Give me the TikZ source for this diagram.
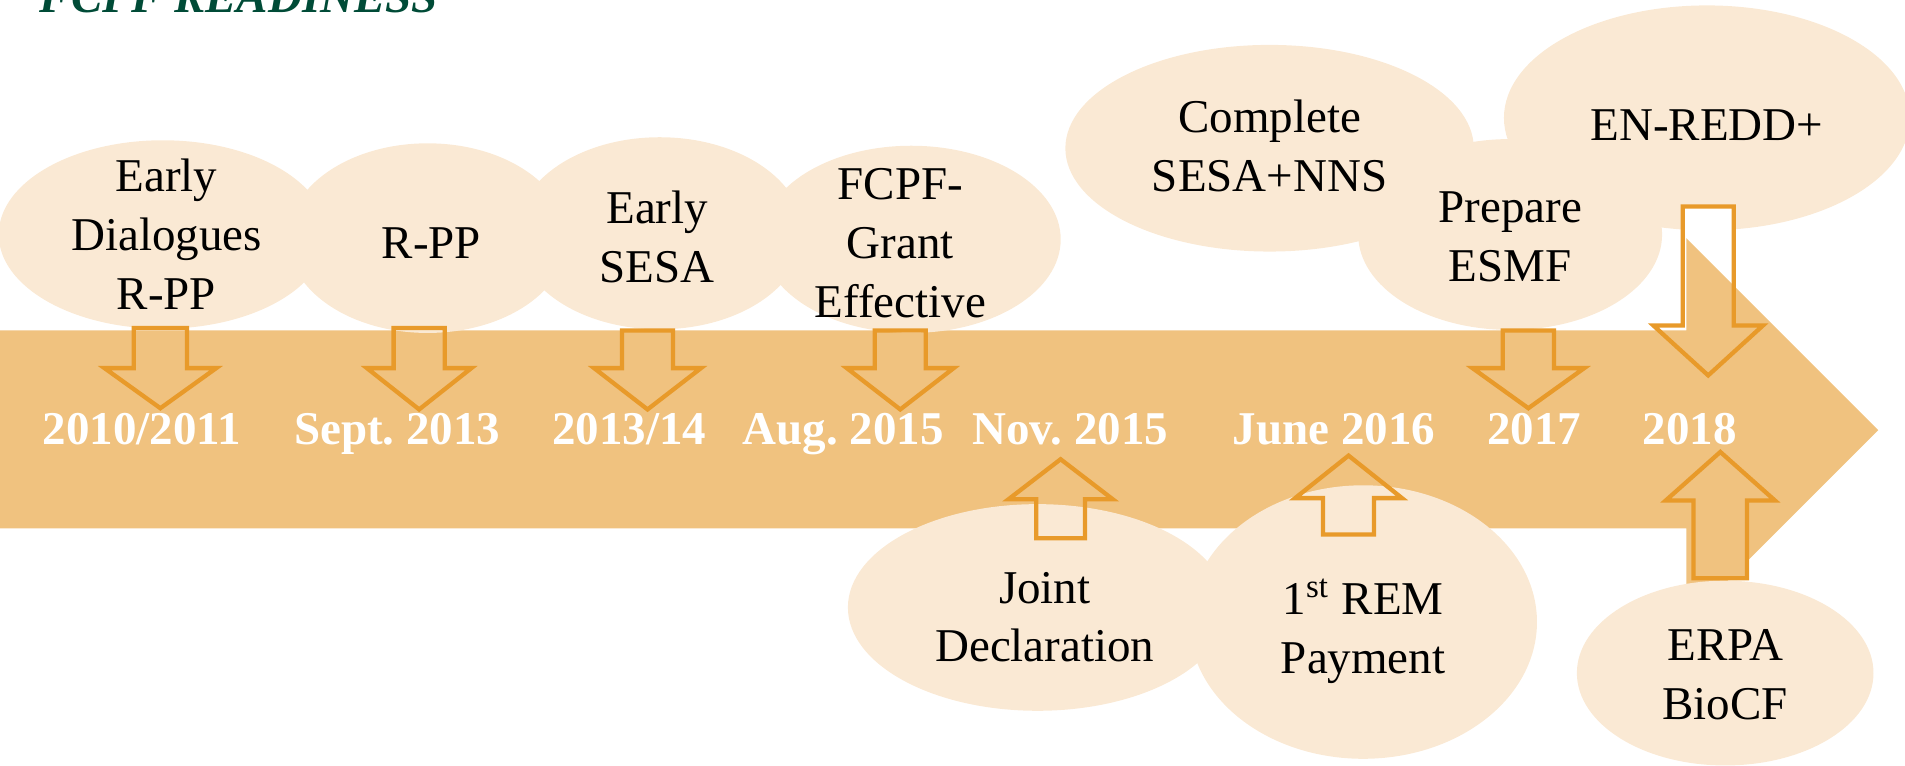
\documentclass[tikz,border=0pt]{standalone}
\usepackage{fontspec}
\setmainfont{Liberation Serif}
\usetikzlibrary{shapes.geometric}
\definecolor{barcol}{HTML}{F0C27F}
\definecolor{bubcol}{HTML}{FAE9D4}
\definecolor{arrcol}{HTML}{E89A2A}
\definecolor{titlecol}{RGB}{0,75,55}
% block arrow path: cx, base y, shoulder y, tip y, stem half width, head half width
\newcommand{\blkpath}[6]{({#1-#5},#2) -- ({#1+#5},#2) -- ({#1+#5},#3) -- ({#1+#6},#3) -- (#1,#4) -- ({#1-#6},#3) -- ({#1-#5},#3) -- cycle}
\newcommand{\bigarrowpath}{(0,272) -- (1388,272) -- (1388,196) -- (1546,354) -- (1388,512) -- (1388,435) -- (0,435) -- cycle}
\frenchspacing
\begin{document}
\begin{tikzpicture}[x=0.01cm,y=-0.01cm,
  bubble/.style={ellipse, fill=bubcol, inner sep=0pt},
  btext/.style={align=center, font=\fontsize{11}{13.8}\selectfont, text=black, inner sep=0pt},
  datelbl/.style={font=\fontsize{11}{13}\selectfont\bfseries, text=white, anchor=base, inner sep=0pt},
  blkline/.style={draw=arrcol, line width=1pt, line join=miter}]
\useasboundingbox (0,0) rectangle (1568,630);

% title (cut at top)
\node[anchor=base west, inner sep=0pt, text=titlecol, font=\fontsize{11}{13}\selectfont\bfseries\itshape] (title) at (32,10) {FCPF READINESS};

% timeline arrow
\fill[barcol] \bigarrowpath;

% bubbles
\node[bubble, minimum width=2.70cm, minimum height=1.55cm] (e1) at (134,193) {};
\node[bubble, minimum width=2.30cm, minimum height=1.56cm] (e2) at (352,196) {};
\node[bubble, minimum width=2.36cm, minimum height=1.58cm] (e3) at (543,192) {};
\node[bubble, minimum width=2.46cm, minimum height=1.54cm] (e4) at (750,197) {};
\node[bubble, minimum width=3.36cm, minimum height=1.70cm] (e5) at (1045,122) {};
\node[bubble, minimum width=2.50cm, minimum height=1.57cm] (e6) at (1243,193) {};
\node[bubble, minimum width=3.34cm, minimum height=1.85cm] (e7) at (1405,97) {};
\node[bubble, minimum width=3.12cm, minimum height=1.70cm] (e8) at (854,500) {};
\node[bubble, minimum width=2.86cm, minimum height=2.25cm] (e9) at (1122,512) {};
\node[bubble, minimum width=2.44cm, minimum height=1.52cm] (e10) at (1420,554) {};

% 2018 down arrow: white fill, timeline colour inside the timeline
\fill[white] \blkpath{1406}{170}{268}{309}{21}{45};
\begin{scope}
  \clip \blkpath{1406}{170}{268}{309}{21}{45};
  \fill[barcol] \bigarrowpath;
\end{scope}
% ERPA up arrow fill
\fill[barcol] \blkpath{1416}{476}{412}{372}{22}{45};

% callout arrows
\draw[blkline] \blkpath{132}{270}{303}{336}{22}{46};
\draw[blkline] \blkpath{345}{270}{303}{337}{21}{43};
\draw[blkline] \blkpath{533}{272}{303}{337}{21}{44};
\draw[blkline] \blkpath{741}{272}{303}{337}{21}{44};
\draw[blkline] \blkpath{1258}{272}{303}{336}{21}{46};
\draw[blkline] \blkpath{1406}{170}{268}{309}{21}{45};
\draw[blkline] \blkpath{873}{443}{411}{378}{20}{43};
\draw[blkline] \blkpath{1110}{440}{410}{375}{21}{44};
\draw[blkline] \blkpath{1416}{476}{412}{372}{22}{45};

% bubble texts
\node[btext] (t1) at (137,193) {Early\\Dialogues\\R-PP};
\node[btext] (t2) at (355,200) {R-PP};
\node[btext] (t3) at (541,195) {Early\\SESA};
\node[btext] (t4) at (741,200) {FCPF-\\Grant\\Effective};
\node[btext] (t5) at (1045,120) {Complete\\SESA+NNS};
\node[btext] (t6) at (1243,195) {Prepare\\ESMF};
\node[btext] (t7) at (1405,103) {EN-REDD+};
\node[btext] (t8) at (860,508) {Joint\\Declaration};
\node[btext] (t9) at (1122,520) {1\textsuperscript{st} REM\\Payment};
\node[btext] (t10) at (1420,555) {ERPA\\BioCF};

% dates
\node[datelbl] (d1) at (117,366) {2010/2011};
\node[datelbl] (d2) at (327,366) {Sept. 2013};
\node[datelbl] (d3) at (518,366) {2013/14};
\node[datelbl] (d4) at (694,366) {Aug. 2015};
\node[datelbl] (d5) at (881,366) {Nov. 2015};
\node[datelbl] (d6) at (1098,366) {June 2016};
\node[datelbl] (d7) at (1263,366) {2017};
\node[datelbl] (d8) at (1391,366) {2018};
\end{tikzpicture}
\end{document}
